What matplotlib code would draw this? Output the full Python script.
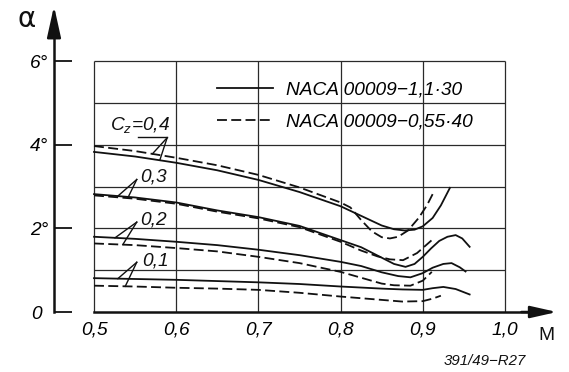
import matplotlib
matplotlib.use("Agg")
import matplotlib.pyplot as plt
import numpy as np

plt.rcParams["font.family"] = ["Liberation Sans", "DejaVu Sans"]
plt.rcParams["mathtext.fontset"] = "custom"
plt.rcParams["mathtext.it"] = "Liberation Sans:italic"
plt.rcParams["mathtext.rm"] = "Liberation Sans"

# angle of attack (deg) against Mach number, one solid/dashed pair per Cz
mach_s04 = [0.5, 0.55, 0.6, 0.65, 0.7, 0.75, 0.8, 0.825, 0.85, 0.865, 0.878, 0.89, 0.9, 0.912, 0.922, 0.933]
alpha_s04 = [3.83, 3.72, 3.57, 3.39, 3.16, 2.87, 2.53, 2.30, 2.07, 1.98, 1.95, 1.97, 2.05, 2.25, 2.55, 2.97]
mach_d04 = [0.5, 0.55, 0.6, 0.65, 0.7, 0.75, 0.8, 0.812, 0.825, 0.838, 0.85, 0.86, 0.87, 0.882, 0.895, 0.905, 0.912]
alpha_d04 = [3.97, 3.85, 3.69, 3.51, 3.28, 2.98, 2.62, 2.50, 2.20, 1.93, 1.79, 1.76, 1.80, 1.95, 2.25, 2.55, 2.82]

mach_s03 = [0.5, 0.55, 0.6, 0.65, 0.7, 0.75, 0.8, 0.825, 0.85, 0.865, 0.879, 0.89, 0.9, 0.91, 0.92, 0.93, 0.94, 0.948, 0.957]
alpha_s03 = [2.82, 2.74, 2.62, 2.43, 2.27, 2.06, 1.72, 1.55, 1.30, 1.15, 1.08, 1.15, 1.32, 1.52, 1.70, 1.80, 1.84, 1.76, 1.56]
mach_d03 = [0.5, 0.55, 0.6, 0.65, 0.7, 0.75, 0.8, 0.825, 0.845, 0.86, 0.876, 0.893, 0.911]
alpha_d03 = [2.79, 2.71, 2.59, 2.40, 2.24, 2.03, 1.68, 1.47, 1.33, 1.26, 1.24, 1.41, 1.72]

mach_s02 = [0.5, 0.55, 0.6, 0.65, 0.7, 0.75, 0.8, 0.825, 0.85, 0.87, 0.885, 0.9, 0.912, 0.925, 0.935, 0.945, 0.952]
alpha_s02 = [1.80, 1.75, 1.68, 1.60, 1.49, 1.36, 1.20, 1.10, 0.95, 0.86, 0.83, 0.93, 1.06, 1.15, 1.17, 1.07, 0.97]
mach_d02 = [0.5, 0.55, 0.6, 0.65, 0.7, 0.75, 0.8, 0.825, 0.85, 0.865, 0.885, 0.9, 0.911]
alpha_d02 = [1.64, 1.60, 1.53, 1.45, 1.32, 1.17, 0.96, 0.82, 0.68, 0.64, 0.63, 0.75, 0.96]

mach_s01 = [0.5, 0.55, 0.6, 0.65, 0.7, 0.75, 0.8, 0.85, 0.875, 0.9, 0.912, 0.925, 0.94, 0.957]
alpha_s01 = [0.81, 0.79, 0.77, 0.74, 0.71, 0.67, 0.61, 0.56, 0.54, 0.53, 0.57, 0.60, 0.55, 0.42]
mach_d01 = [0.5, 0.55, 0.6, 0.65, 0.7, 0.75, 0.8, 0.85, 0.875, 0.9, 0.912, 0.922]
alpha_d01 = [0.63, 0.61, 0.58, 0.56, 0.53, 0.46, 0.37, 0.29, 0.25, 0.26, 0.32, 0.39]

mach_ticks = [0.5, 0.6, 0.7, 0.8, 0.9, 1.0]
mach_labels = ["0,5", "0,6", "0,7", "0,8", "0,9", "1,0"]
alpha_ticks = [0, 2, 4, 6]
alpha_labels = ["0 ", "2°", "4°", "6°"]
cz_labels = ["$C_z$=0,4", "0,3", "0,2", "0,1"]
series_names = ["NACA 00009\u22121,1\u00b730", "NACA 00009\u22120,55\u00b740"]

INK = "#111111"
FS = 13.8
DASH = (0, (5.5, 2.4))

fig = plt.figure(figsize=(5.69, 3.72), dpi=100)
ax = fig.add_axes([0, 0, 1, 1])
ax.set_xlim(0.3856, 1.0779)
ax.set_ylim(-1.435, 7.464)

# chart grid: box from M 0.5 to 1.0 and 0 to 6 degrees
ax.vlines(mach_ticks, 0, 6, color="#2a2a2a", lw=0.9, zorder=1)
ax.hlines(np.arange(1, 7), 0.5, 1.0, color="#2a2a2a", lw=0.9, zorder=1)

# axes: y spine pulled left of the grid, x spine starting at M = 0.5
y_axis_m = 0.4513
for side in ("top", "right"):
    ax.spines[side].set_visible(False)
ax.spines["left"].set_position(("data", y_axis_m))
ax.spines["left"].set_bounds(0, 6.9)
ax.spines["bottom"].set_position(("data", 0))
ax.spines["bottom"].set_bounds(0.5, 1.03)
for side in ("left", "bottom"):
    ax.spines[side].set_linewidth(1.8)
    ax.spines[side].set_color(INK)

ax.annotate("", xy=(y_axis_m, 7.32), xytext=(y_axis_m, 6.8),
            arrowprops=dict(arrowstyle="-|>,head_length=1.9,head_width=0.42",
                            color=INK, lw=1.8, shrinkA=0, shrinkB=0, mutation_scale=10))
ax.annotate("", xy=(1.0633, 0), xytext=(1.02, 0),
            arrowprops=dict(arrowstyle="-|>,head_length=1.6,head_width=0.36",
                            color=INK, lw=1.8, shrinkA=0, shrinkB=0, mutation_scale=10))

ax.set_yticks(alpha_ticks, labels=alpha_labels)
ax.set_xticks(mach_ticks, labels=mach_labels)
ax.tick_params(axis="y", direction="in", length=13, width=1.3, pad=4,
               labelsize=FS, color=INK)
ax.tick_params(axis="x", length=0, pad=7, labelsize=FS)
for lab in ax.get_xticklabels() + ax.get_yticklabels():
    lab.set_fontstyle("italic")

ax.text(0.4185, 7.0, "\u03b1", fontsize=20, ha="center", va="center",
        family=["DejaVu Sans"], color=INK)
ax.text(1.051, -0.56, "M", fontsize=FS, ha="center", va="center", color=INK)
ax.text(0.9757, -1.17, "391/49\u2212R27", fontsize=10.8, style="italic",
        ha="center", va="center", color=INK)

# curves
pairs = [
    ((mach_s04, alpha_s04), (mach_d04, alpha_d04)),
    ((mach_s03, alpha_s03), (mach_d03, alpha_d03)),
    ((mach_s02, alpha_s02), (mach_d02, alpha_d02)),
    ((mach_s01, alpha_s01), (mach_d01, alpha_d01)),
]
handles = None
for solid, dashed in pairs:
    ls, = ax.plot(*solid, color=INK, lw=1.3, zorder=3)
    ld, = ax.plot(*dashed, color=INK, lw=1.3, ls=DASH, zorder=3)
    if handles is None:
        handles = [ls, ld]

# Cz labels with their leader strokes onto the solid and dashed curve
label_pos = [(0.519, 4.47), (0.556, 3.22), (0.556, 2.21), (0.558, 1.22)]
apex = [(0.589, 4.17), (0.552, 3.17), (0.552, 2.15), (0.552, 1.19)]
leader_m = [(0.580, 0.571), (0.529, 0.541), (0.5255, 0.535), (0.529, 0.538)]
for text, (tx, ty), (px, py), (ms, md), (solid, dashed) in zip(
        cz_labels, label_pos, apex, leader_m, pairs):
    ax.text(tx, ty, text, fontsize=FS, style="italic", ha="left", va="center",
            color=INK, zorder=4)
    for m, (mx, ay) in ((ms, solid), (md, dashed)):
        ax.plot([px, m], [py, np.interp(m, mx, ay)], color=INK, lw=1.0, zorder=4)
ax.plot([0.553, apex[0][0]], [apex[0][1] + 0.02] * 2, color=INK, lw=1.0, zorder=4)

ax.legend(handles, series_names, loc="upper left", bbox_to_anchor=(0.3814, 0.782),
          frameon=False, borderpad=0, borderaxespad=0, handlelength=2.9,
          handletextpad=0.7, labelspacing=0.75,
          prop=dict(style="italic", size=FS))

fig.savefig("out.png", dpi=100)
